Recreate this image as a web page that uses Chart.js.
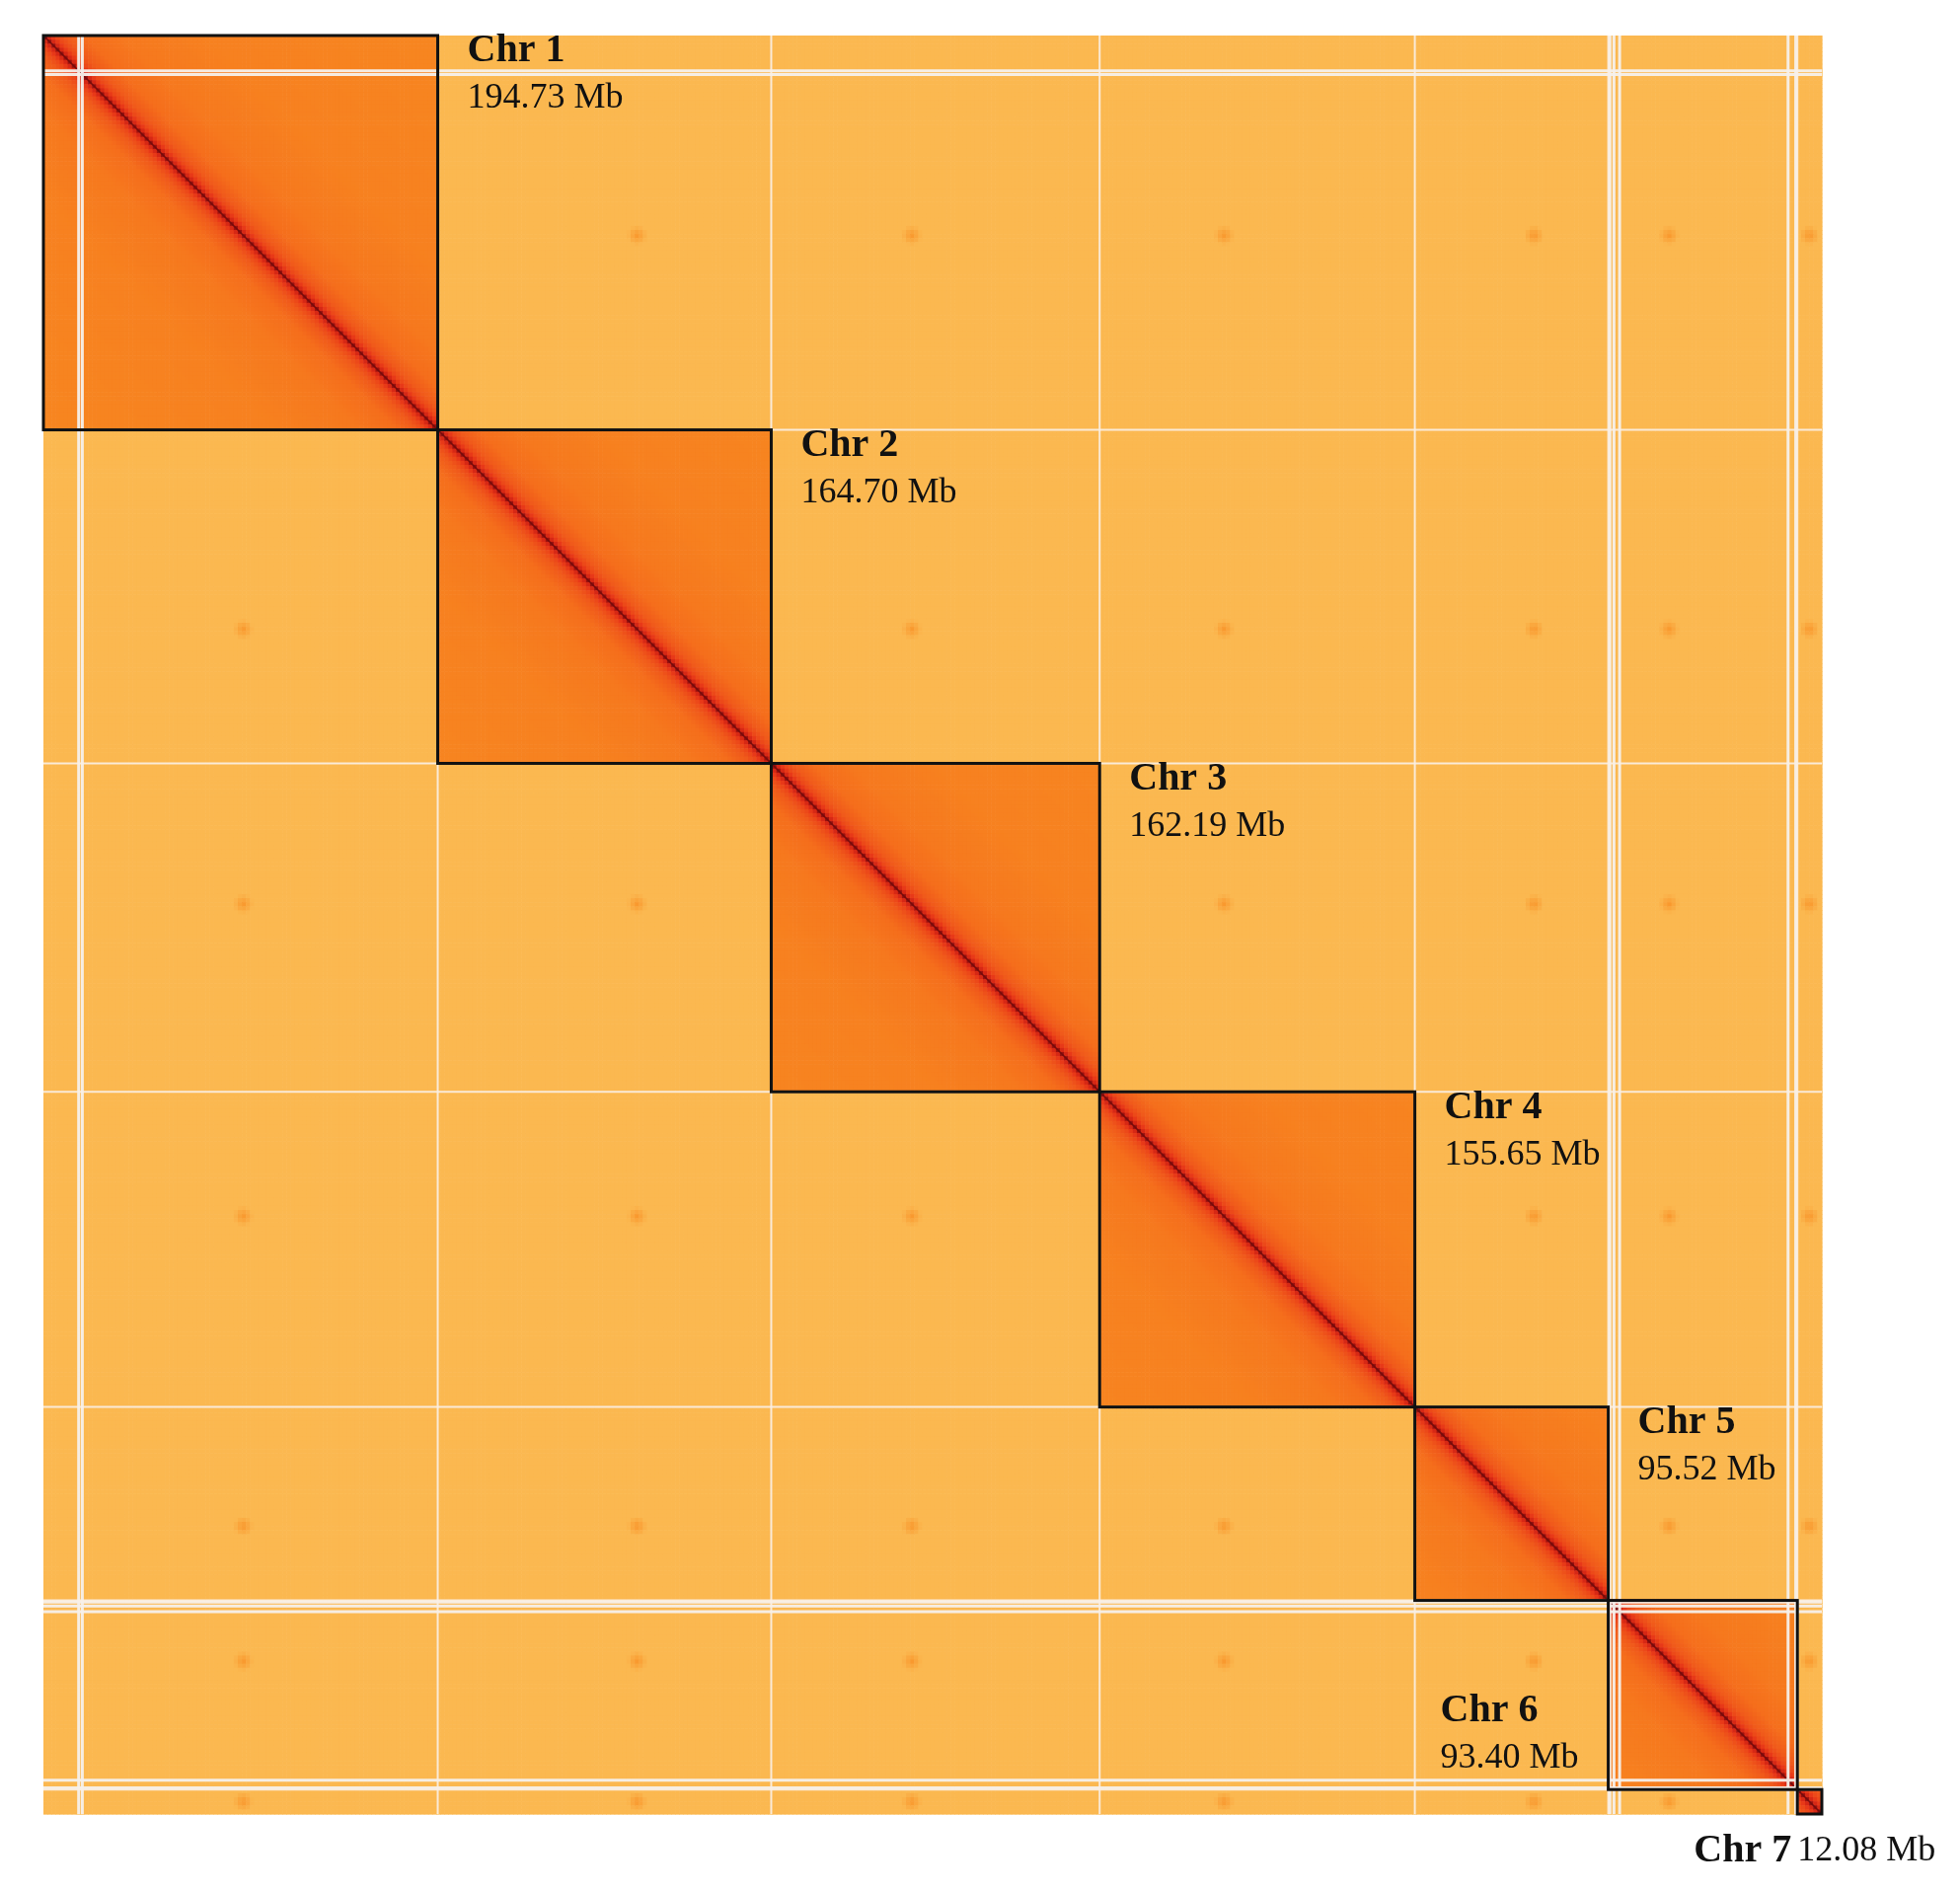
<!DOCTYPE html>
<html><head><meta charset="utf-8">
<script src="https://cdn.jsdelivr.net/npm/chart.js@4"></script>
<style>html,body{margin:0;padding:0;background:#fff}canvas{display:block}</style>
</head><body>
<canvas id="c" width="1986" height="1916" style="width:1986px;height:1916px"></canvas>
<script>
// ---- data ----
const chromosomes = ["Chr 1","Chr 2","Chr 3","Chr 4","Chr 5","Chr 6","Chr 7"];
const lengthsMb = [194.73,164.70,162.19,155.65,95.52,93.40,12.08];
const lengthLabels = ["194.73 Mb","164.70 Mb","162.19 Mb","155.65 Mb","95.52 Mb","93.40 Mb","12.08 Mb"];
// centromere position within each chromosome (Mb), estimated from inter-chromosomal spots
const centromeresMb = [98.7,98.5,69.4,61.5,58.9,30.0,6.0];
// contact decay profile: distance from diagonal (Mb) -> intensity (0..1)
const decayDistMb = [0,1,3,6,10,20,40,80,200];
const decayValue  = [0.95,0.88,0.8,0.73,0.68,0.62,0.58,0.55,0.53];
const interValue = 0.28;
const centromereSpotValue = 0.45;
// unmapped gap lines (genome coordinate, Mb)
const gapsMb = [17.4,19.2,773.6,775.6,778.4,861.6,865.4];

const starts=[];let acc=0;for(const l of lengthsMb){starts.push(acc);acc+=l;}
const total=acc;
const bin=2;

function decay(d){
  for(let i=1;i<decayDistMb.length;i++){
    if(d<=decayDistMb[i]){const t=(d-decayDistMb[i-1])/(decayDistMb[i]-decayDistMb[i-1]);return decayValue[i-1]+t*(decayValue[i]-decayValue[i-1]);}
  }
  return decayValue[decayValue.length-1];
}
function chrOf(p){for(let i=starts.length-1;i>=0;i--) if(p>=starts[i]) return i;return 0;}
const stops=[[0,[253,226,178]],[0.28,[251,184,80]],[0.5,[248,142,34]],[0.62,[245,110,28]],[0.78,[232,56,24]],[0.9,[196,24,18]],[1,[110,10,10]]];
function color(v){
  for(let i=1;i<stops.length;i++){if(v<=stops[i][0]){const a=stops[i-1],b=stops[i];const t=(v-a[0])/(b[0]-a[0]);
    return 'rgb('+a[1].map((c,k)=>Math.round(c+t*(b[1][k]-c))).join(',')+')';}}
  return 'rgb(110,10,10)';
}
function value(x,y){
  const cx=chrOf(x),cy=chrOf(y);
  if(cx===cy) return decay(Math.abs(x-y));
  const dx=x-(starts[cx]+centromeresMb[cx]),dy=y-(starts[cy]+centromeresMb[cy]);
  const r=Math.sqrt(dx*dx+dy*dy);
  if(r<5) return interValue+(centromereSpotValue-interValue)*(1-r/5);
  return interValue;
}

const heatmap={id:'heatmap',beforeDatasetsDraw(chart){
  const ctx=chart.ctx,xs=chart.scales.x,ys=chart.scales.y;
  ctx.save();
  const n=Math.ceil(total/bin);
  for(let i=0;i<n;i++){
    const x0=i*bin,x1=Math.min(total,x0+bin);
    const px0=xs.getPixelForValue(x0),px1=xs.getPixelForValue(x1);
    for(let j=0;j<n;j++){
      const y0=j*bin,y1=Math.min(total,y0+bin);
      const py0=ys.getPixelForValue(y0),py1=ys.getPixelForValue(y1);
      ctx.fillStyle=color(value((x0+x1)/2,(y0+y1)/2));
      ctx.fillRect(px0,py0,px1-px0+0.6,py1-py0+0.6);
    }
  }
  ctx.strokeStyle='rgba(110,10,10,0.85)';ctx.lineWidth=1.6;
  lengthsMb.forEach((l,i)=>{ctx.beginPath();ctx.moveTo(xs.getPixelForValue(starts[i]),ys.getPixelForValue(starts[i]));
    ctx.lineTo(xs.getPixelForValue(starts[i]+l),ys.getPixelForValue(starts[i]+l));ctx.stroke();});
  const L=xs.getPixelForValue(0),R=xs.getPixelForValue(total),T=ys.getPixelForValue(0),B=ys.getPixelForValue(total);
  ctx.strokeStyle='rgba(245,240,235,0.95)';ctx.lineWidth=3;
  gapsMb.forEach(g=>{const px=xs.getPixelForValue(g),py=ys.getPixelForValue(g);
    ctx.beginPath();ctx.moveTo(px,T);ctx.lineTo(px,B);ctx.moveTo(L,py);ctx.lineTo(R,py);ctx.stroke();});
  ctx.strokeStyle='rgba(250,240,230,0.9)';ctx.lineWidth=2;
  starts.slice(1).forEach(s=>{const px=xs.getPixelForValue(s),py=ys.getPixelForValue(s);
    ctx.beginPath();ctx.moveTo(px,T);ctx.lineTo(px,B);ctx.moveTo(L,py);ctx.lineTo(R,py);ctx.stroke();});
  ctx.strokeStyle='#111';ctx.lineWidth=3;
  lengthsMb.forEach((l,i)=>{const a=xs.getPixelForValue(starts[i]),b=xs.getPixelForValue(starts[i]+l);
    const c=ys.getPixelForValue(starts[i]),d=ys.getPixelForValue(starts[i]+l);ctx.strokeRect(a,c,b-a,d-c);});
  ctx.fillStyle='#111';ctx.textBaseline='top';
  lengthsMb.forEach((l,i)=>{
    const e=starts[i]+l;
    let x,y;
    if(i<5){x=xs.getPixelForValue(e)+30;y=ys.getPixelForValue(starts[i])-4;
      ctx.textAlign='left';ctx.font='bold 40px "Liberation Serif"';ctx.fillText(chromosomes[i],x,y);
      ctx.font='36px "Liberation Serif"';ctx.fillText(lengthLabels[i],x,y+50);}
    else if(i===5){x=xs.getPixelForValue(starts[i])-170;y=ys.getPixelForValue(e)-100;
      ctx.textAlign='left';ctx.font='bold 40px "Liberation Serif"';ctx.fillText(chromosomes[i],x,y);
      ctx.font='36px "Liberation Serif"';ctx.fillText(lengthLabels[i],x,y+50);}
    else{x=xs.getPixelForValue(starts[i]);y=ys.getPixelForValue(e)+18;
      ctx.textAlign='right';ctx.font='bold 40px "Liberation Serif"';ctx.fillText(chromosomes[i],x-6,y);
      ctx.textAlign='left';ctx.font='36px "Liberation Serif"';ctx.fillText(lengthLabels[i],x,y+2);}
  });
  ctx.restore();
}};

new Chart(document.getElementById('c'),{
  type:'scatter',
  data:{datasets:[{data:[],pointRadius:0}]},
  options:{responsive:false,animation:false,devicePixelRatio:1,
    layout:{padding:{left:44,top:36,right:140,bottom:78}},
    plugins:{legend:{display:false},tooltip:{enabled:false}},
    scales:{x:{type:'linear',min:0,max:total,display:false},
            y:{type:'linear',min:0,max:total,reverse:true,display:false}}},
  plugins:[heatmap]
});
</script>
</body></html>
